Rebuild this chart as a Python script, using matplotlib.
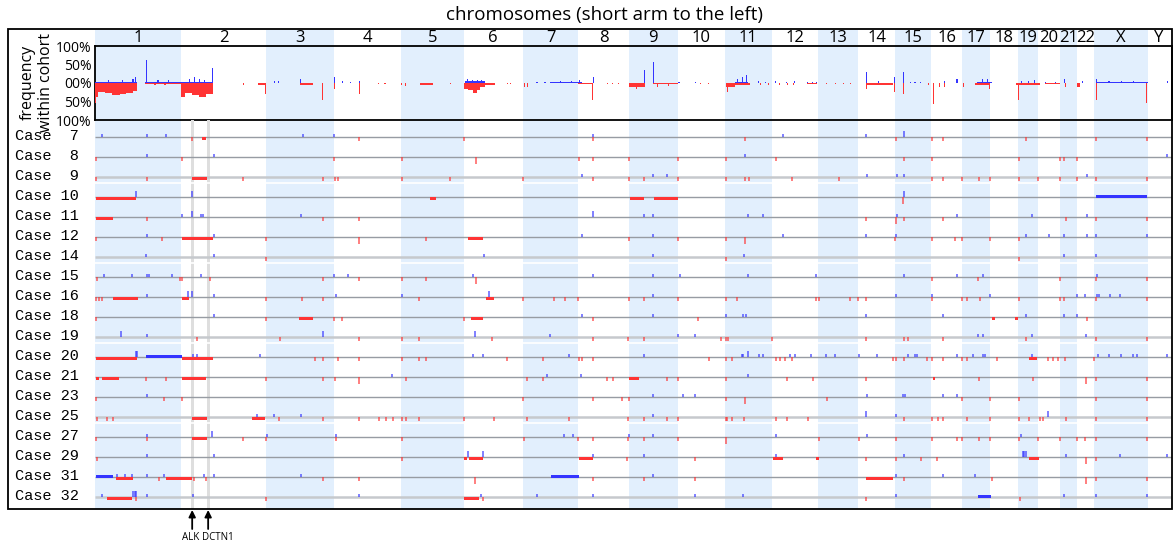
import matplotlib
matplotlib.use("Agg")
import matplotlib.pyplot as plt
import matplotlib.transforms as mtransforms
from matplotlib.patches import Rectangle

# ---------------- data ----------------
chrom_names = ['1', '2', '3', '4', '5', '6', '7', '8', '9', '10', '11', '12',
               '13', '14', '15', '16', '17', '18', '19', '20', '21', '22', 'X', 'Y']
chrom_lengths = [249, 243, 198, 191, 181, 171, 159, 146, 141, 136, 135, 134,
                 115, 107, 103, 90, 81, 78, 59, 63, 48, 51, 155, 59]
genome_end = 3103

case_ids = [7, 8, 9, 10, 11, 12, 14, 15, 16, 18, 19, 20, 21, 23, 25, 27, 29, 31, 32]

freq_ticks = [100, 50, 0, -50, -100]
freq_tick_labels = ['100%', '50%', '00%', '50%', '100%']

# cohort frequency (genome Mb start, end, percent)
freq_gain = [
    (0, 121, 4), (38, 41, 8), (78, 81, 7), (108, 111, 10), (116, 119, 15),
    (145, 249, 4), (148, 151, 62), (180, 183, 7), (210, 213, 8),
    (249, 340, 4), (270, 273, 12), (285, 288, 15), (300, 303, 10), (315, 318, 8), (338, 341, 40),
    (515, 518, 6), (526, 529, 5), (590, 593, 10), (688, 691, 15),
    (711, 714, 5), (734, 737, 4), (760, 763, 5),
    (1066, 1124, 5), (1072, 1075, 10), (1085, 1088, 9), (1100, 1103, 8), (1112, 1115, 9),
    (1272, 1275, 3), (1295, 1298, 3), (1311, 1403, 3), (1340, 1343, 6), (1370, 1373, 6),
    (1395, 1398, 8), (1434, 1437, 15),
    (1583, 1586, 35), (1607, 1610, 57), (1680, 1686, 3), (1728, 1731, 4),
    (1844, 1882, 3), (1850, 1853, 10), (1865, 1868, 15), (1875, 1878, 21),
    (1910, 1913, 5), (1930, 1933, 4), (1960, 1963, 5), (1990, 1993, 4), (2015, 2018, 5),
    (2050, 2053, 3), (2065, 2068, 3), (2078, 2081, 3),
    (2220, 2223, 30), (2255, 2258, 5), (2301, 2304, 15),
    (2327, 2330, 30), (2347, 2350, 4), (2361, 2364, 4), (2376, 2379, 4), (2445, 2448, 5),
    (2482, 2485, 10), (2541, 2584, 4), (2555, 2558, 10), (2570, 2573, 10),
    (2669, 2672, 6), (2689, 2692, 5), (2704, 2707, 8), (2736, 2739, 3), (2765, 2768, 3),
    (2791, 2794, 10), (2845, 2848, 6),
    (2884, 3034, 4), (2884, 2887, 10), (2920, 2923, 6), (2955, 2958, 6), (2990, 2993, 6),
    (3088, 3091, 5),
]
freq_loss = [
    (0, 3, 55), (3, 10, 38), (10, 30, 25), (30, 50, 28), (50, 72, 33), (72, 90, 30),
    (90, 110, 27), (110, 121, 22),
    (145, 249, 3), (170, 175, 5), (200, 205, 5),
    (249, 258, 38), (258, 280, 28), (280, 300, 33), (300, 320, 37), (320, 340, 30),
    (426, 429, 6), (470, 490, 5), (489, 492, 30),
    (591, 628, 5), (653, 656, 47), (688, 691, 15),
    (760, 763, 30), (814, 817, 3), (834, 837, 3),
    (881, 884, 5), (892, 895, 8), (936, 974, 5), (1022, 1025, 2),
    (1062, 1075, 15), (1075, 1090, 20), (1090, 1100, 27), (1100, 1110, 18),
    (1110, 1125, 12), (1125, 1152, 5),
    (1186, 1189, 3), (1195, 1198, 3), (1235, 1238, 10), (1244, 1247, 10),
    (1392, 1432, 4), (1431, 1434, 47),
    (1474, 1477, 3), (1489, 1492, 3), (1506, 1509, 3),
    (1539, 1585, 10), (1560, 1563, 15),
    (1608, 1680, 3), (1620, 1623, 10), (1650, 1653, 8),
    (1742, 1745, 4), (1765, 1768, 4),
    (1818, 1844, 10), (1820, 1823, 25), (1844, 1887, 5),
    (1915, 1918, 5), (1940, 1943, 5), (1970, 1973, 5), (1995, 1998, 5), (2010, 2013, 5),
    (2052, 2080, 3), (2106, 2109, 3), (2132, 2135, 3), (2155, 2158, 3), (2175, 2178, 3),
    (2221, 2299, 5), (2220, 2223, 15), (2301, 2304, 25),
    (2327, 2330, 30), (2399, 2402, 5),
    (2413, 2416, 58), (2433, 2436, 10), (2445, 2448, 10),
    (2500, 2503, 10), (2535, 2580, 5), (2577, 2580, 15),
    (2653, 2680, 5), (2658, 2661, 47), (2680, 2723, 5),
    (2737, 2780, 4), (2794, 2797, 10), (2829, 2838, 10),
    (2883, 2886, 47), (3029, 3032, 55),
]

# per-case segments: (case row, start Mb, end Mb)
loss_segments = [
    (0, 307, 319), (2, 280, 324),
    (3, 2, 117), (3, 965, 982), (3, 1541, 1583), (3, 1611, 1679),
    (4, 2, 51), (5, 250, 339), (5, 1075, 1119),
    (8, 51, 123), (8, 250, 272), (8, 1126, 1150),
    (9, 589, 627), (9, 1083, 1117), (9, 2583, 2593), (9, 2651, 2660),
    (11, 2, 120), (11, 250, 339), (11, 2690, 2715),
    (12, 2, 12), (12, 19, 70), (12, 250, 320), (12, 1539, 1568), (12, 2413, 2420),
    (14, 280, 324), (14, 453, 490), (15, 280, 324),
    (16, 1063, 1071), (16, 1078, 1117), (16, 1395, 1434), (16, 1952, 1981),
    (16, 2076, 2086), (16, 2690, 2720),
    (17, 61, 110), (17, 205, 279), (17, 2221, 2298),
    (18, 35, 108), (18, 1063, 1107),
]
gain_segments = [
    (3, 2885, 3032), (11, 146, 252), (17, 2, 53), (17, 1313, 1394), (18, 2543, 2581),
]

# per-case small marks (genome Mb), one list per case row
loss_ticks = [
    [280, 761, 1063, 1434, 1873, 2308, 2411, 2444, 2682, 2883, 3032],
    [2, 250, 689, 884, 1394, 1434, 1539, 1679, 1818, 1961, 2331, 2411, 2661, 2780, 2793, 2830],
    [2, 151, 427, 656, 691, 701, 884, 1023, 1234, 1434, 1539, 1583, 1679, 1818, 1873, 1884,
     2007, 2143, 2411, 2442, 2499, 2547, 2578, 2661, 2716, 2780, 2828, 2883, 3032],
    [],
    [151, 656, 761, 2221, 2331, 2444, 2797, 2883, 3032],
    [2, 192, 492, 954, 1539, 1679, 1818, 2306, 2411, 2478, 2499, 2580, 2661],
    [492, 1818, 2661],
    [7, 245, 250, 331, 656, 761, 884, 954, 2411, 2545, 2780, 2883, 3032],
    [2, 12, 19, 492, 597, 656, 933, 1234, 1323, 1355, 1392, 1539, 1583, 1679, 1818, 1849,
     2077, 2087, 2175, 2199, 2221, 2411, 2499, 2511, 2550, 2661, 2780, 2793, 2883, 3032],
    [2, 492, 689, 712, 1063, 1434, 1738, 2857],
    [295, 533, 761, 884, 933, 1143, 1434, 1536, 1583, 1805, 1818, 1825, 1951, 2221, 2331,
     2343, 2444, 2682, 2883, 3032],
    [634, 656, 701, 761, 884, 933, 954, 1188, 1292, 1395, 1402, 1434, 1770, 1818, 1834, 1962,
     1973, 1988, 2007, 2300, 2308, 2331, 2396, 2412, 2444, 2499, 2511, 2598, 2746, 2761,
     2775, 2795, 2879],
    [147, 205, 493, 656, 691, 896, 1245, 1292, 1474, 1492, 1647, 1679, 1818, 1993, 2069,
     2221, 2547, 2703, 2883, 3032],
    [2, 199, 250, 1234, 1434, 1517, 1539, 1818, 2108, 2499, 2580, 2661, 2883, 3032],
    [7, 35, 53, 531, 656, 761, 819, 838, 859, 885, 896, 933, 1063, 1150, 1245, 1366, 1536,
     1583, 1647, 1679, 1818, 1822, 1834, 1870, 1962, 1993, 2053, 2331, 2411, 2430, 2444,
     2511, 2580, 2661, 2690, 2723, 2732, 2797, 2883, 3032],
    [2, 151, 427, 492, 694, 884, 1236, 1391, 1434, 1536, 1583, 1679, 2086, 2201, 2308, 2411,
     2483, 2499, 2547, 2580, 2661, 2716, 2780, 2828, 2852, 2883, 3032],
    [7, 884, 1532, 1729, 2221, 2308, 2379, 2427, 2883],
    [185, 285, 320, 656, 761, 1434, 1583, 1729, 2331, 2583, 2883, 3032],
    [117, 492, 1119, 2221, 2665],
]
loss_tall = [[], [1097], [], [2329], [2308], [761, 1873], [], [1097], [], [], [], [],
             [761, 2855], [1873], [], [1818], [2855], [1095, 2855], []]
gain_ticks = [
    [19, 151, 205, 600, 689, 1434, 1983, 2221],
    [151, 342, 1873, 3090],
    [1402, 1608, 1647, 2223, 2310, 2331, 2857],
    [],
    [250, 305, 312, 593, 1583, 1608, 1882, 1924, 2310, 2484, 2699, 2857],
    [151, 342, 1402, 1608, 1983, 2221, 2308, 2682, 2749, 2792, 2857, 2883, 3032],
    [147, 342, 1121, 1608, 1870, 2792, 2883],
    [26, 106, 151, 156, 223, 305, 689, 730, 1090, 1434, 1608, 1685, 1882, 2076, 2331, 2484,
     2559, 2886],
    [151, 342, 694, 884, 1608, 2308, 2411, 2580, 2830, 2852, 2886, 2893, 2924, 2953],
    [342, 1402, 1608, 1818, 1868, 1876, 2221, 2444, 2682, 2792, 2830],
    [151, 1311, 1679, 1729, 2545, 2559, 2699, 2855],
    [283, 293, 475, 1090, 1119, 1366, 1583, 1865, 1868, 1914, 1924, 2002, 2017, 2062, 2105,
     2132, 2201, 2254, 2343, 2362, 2367, 2484, 2530, 2559, 2565, 2699, 2891, 2922, 2955,
     2991, 3001, 3090],
    [855, 1301, 1399, 1882],
    [151, 1608, 1695, 1729, 2223, 2329, 2334, 2444, 2484],
    [466, 516, 593, 1608, 2308],
    [151, 495, 694, 1351, 1376, 1539, 1608, 1961, 2223, 2668],
    [151, 342, 1434, 1583, 1961, 2331, 2797, 2953, 3090],
    [64, 86, 106, 151, 199, 315, 342, 593, 1608, 2308, 2444, 2535],
    [19, 151, 283, 761, 1111, 1273, 1434, 1729, 1868, 2308, 2792, 2883, 3032],
]
gain_tall = [[2331], [], [], [118, 280, 2331], [279, 1434], [], [], [], [269, 279, 1135], [],
             [74, 656, 1095], [117, 120, 1882], [], [], [2221, 2746], [338], [1075, 1119, 2673, 2677, 2681],
             [], [110, 115, 118]]

genes = ['ALK', 'DCTN1']
gene_pos = [280, 326]
gene_label_offset = [-1, 7]   # points

# ---------------- styling ----------------
W, H = 1173, 547
RED = '#ff3434'
BLUE = '#3434ff'
SHADE = '#e2effd'
SANS = ['Open Sans', 'DejaVu Sans']
MONO = ['Liberation Mono', 'DejaVu Sans Mono']

fig = plt.figure(figsize=(W / 100, H / 100), dpi=100)


def fy(py):
    return 1 - py / H


x0, x1 = 95, 1172
axw = (x1 - x0) / W

# background shading
ax_bg = fig.add_axes([x0 / W, fy(509), axw, (509 - 30) / H])
ax_bg.set_xlim(0, genome_end)
ax_bg.set_ylim(0, 1)
ax_bg.axis('off')
starts = []
acc = 0
for L in chrom_lengths:
    starts.append(acc)
    acc += L
for i, (s, L) in enumerate(zip(starts, chrom_lengths)):
    if i % 2 == 0 and i < 23:
        ax_bg.axvspan(s, s + L, color=SHADE, lw=0, zorder=0)

# top frequency panel
ax_top = fig.add_axes([x0 / W, fy(120), axw, (120 - 46) / H])
ax_top.set_facecolor('none')
ax_top.set_xlim(0, genome_end)
ax_top.set_ylim(-100, 100)
ax_top.bar([s for s, e, p in freq_gain], [p for s, e, p in freq_gain],
           width=[max(e - s, 2.6) for s, e, p in freq_gain], align='edge',
           color=BLUE, lw=0, zorder=3)
ax_top.bar([s for s, e, p in freq_loss], [-p for s, e, p in freq_loss],
           width=[max(e - s, 2.6) for s, e, p in freq_loss], align='edge',
           color=RED, lw=0, zorder=3)
ax_top.set_xticks([])
ax_top.set_yticks(freq_ticks)
ax_top.set_yticklabels(freq_tick_labels, fontsize=10, family=SANS)
ax_top.tick_params(axis='y', length=0, pad=2.5)
for sp in ax_top.spines.values():
    sp.set_linewidth(1.3)
fig.text(37 / W, fy(82), 'frequency\nwithin cohort', rotation=90, ha='center', va='center',
         fontsize=11.5, family=SANS, linespacing=1.25)

# chromosome labels
tr_lab = mtransforms.blended_transform_factory(ax_top.transData, fig.transFigure)
for s, L, name in zip(starts, chrom_lengths, chrom_names):
    ax_top.text(s + L / 2, fy(38), name, transform=tr_lab, ha='center', va='center',
                fontsize=12, family=SANS, clip_on=False)

fig.text(604 / W, fy(15), 'chromosomes (short arm to the left)', ha='center', va='center',
         fontsize=13.5, family=SANS)

# bottom case panel
ax_bot = fig.add_axes([x0 / W, fy(509), axw, (509 - 120) / H])
ax_bot.set_facecolor('none')
ax_bot.set_xlim(0, genome_end)
ax_bot.set_ylim((509 - 137.3) / 20, -(137.3 - 120) / 20)
ax_bot.axis('off')

n = len(case_ids)
light_rows = [2, 6, 10, 14, 18]
for p in gene_pos:
    ax_bot.axvspan(p - 4.5, p + 4.5, color='#dedede', lw=0, zorder=0.5)
for r in [2, 6, 10, 14]:
    ax_bot.hlines(r + 0.3, 0, genome_end, color='white', lw=1.2, zorder=0.7)
for r in range(n):
    if r in light_rows:
        ax_bot.hlines(r, 0, genome_end, color='#c6c9cd', lw=1.8, zorder=1)
    else:
        ax_bot.hlines(r, 0, genome_end, color='#979ca3', lw=1.0, zorder=1)

th, tt, sh = 0.16, 0.33, 0.14
for r in range(n):
    if loss_ticks[r]:
        ax_bot.vlines(loss_ticks[r], r, r + th, color=RED, lw=1.1, alpha=0.8, zorder=2)
    if loss_tall[r]:
        ax_bot.vlines(loss_tall[r], r, r + tt, color=RED, lw=1.1, alpha=0.8, zorder=2)
    if gain_ticks[r]:
        ax_bot.vlines(gain_ticks[r], r - th, r, color=BLUE, lw=1.1, alpha=0.8, zorder=2)
    if gain_tall[r]:
        ax_bot.vlines(gain_tall[r], r - tt, r, color=BLUE, lw=1.1, alpha=0.8, zorder=2)
ax_bot.bar([s for r, s, e in loss_segments], [sh] * len(loss_segments),
           width=[e - s for r, s, e in loss_segments], bottom=[r - 0.01 for r, s, e in loss_segments],
           align='edge', color=RED, lw=0, zorder=3)
ax_bot.bar([s for r, s, e in gain_segments], [-sh] * len(gain_segments),
           width=[e - s for r, s, e in gain_segments], bottom=[r + 0.01 for r, s, e in gain_segments],
           align='edge', color=BLUE, lw=0, zorder=3)

tr_case = mtransforms.blended_transform_factory(fig.transFigure, ax_bot.transData)
for r, c in enumerate(case_ids):
    ax_bot.text(15 / W, r - 0.05, 'Case%3d' % c, transform=tr_case, ha='left', va='center',
                fontsize=11, family=MONO, clip_on=False)

# gene arrows
for g, p, off in zip(genes, gene_pos, gene_label_offset):
    ax_bot.annotate('', xy=(p, fy(510)), xycoords=('data', 'figure fraction'),
                    xytext=(p, fy(529)), textcoords=('data', 'figure fraction'),
                    arrowprops=dict(arrowstyle='-|>', color='black', lw=1.3,
                                    mutation_scale=10, shrinkA=0, shrinkB=0),
                    annotation_clip=False)
    ax_bot.annotate(g, xy=(p, fy(537)), xycoords=('data', 'figure fraction'),
                    xytext=(off, 0), textcoords='offset points', ha='center', va='center',
                    fontsize=7, family=SANS, annotation_clip=False)

# outer frame
fig.add_artist(Rectangle((8 / W, fy(509)), (1172 - 8) / W, (509 - 29) / H,
                         transform=fig.transFigure, fill=False, lw=1.3, ec='black', zorder=10))

fig.savefig('out.png', dpi=100)
